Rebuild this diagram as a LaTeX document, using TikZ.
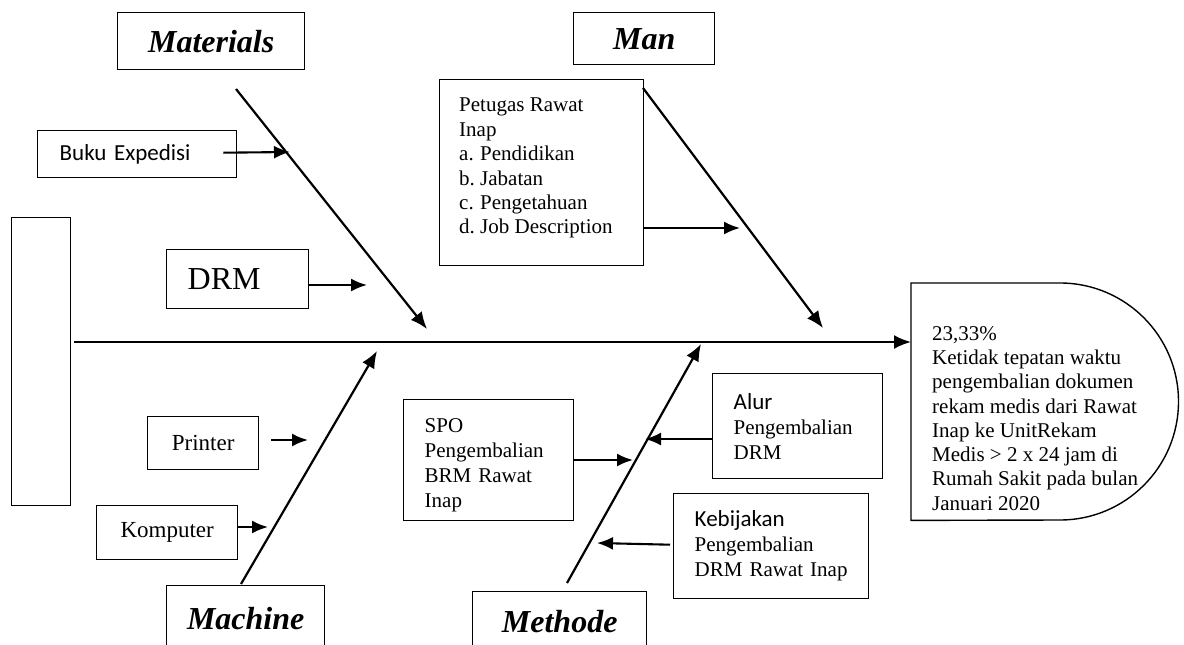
\documentclass[tikz,border=0pt]{standalone}
\usepackage{fontspec}
\setmainfont{Liberation Serif}
\newfontfamily\calib{Carlito}
\usetikzlibrary{arrows.meta,calc}
\tikzset{
  boxline/.style={draw=black, line width=1.4pt},
  bx/.style={boxline, rectangle, inner sep=0pt, anchor=north west},
  title/.style={bx, font=\fontsize{32}{36}\selectfont\bfseries\itshape},
  small/.style={bx, font=\fontsize{23}{26}\selectfont},
  multi/.style={bx, align=left, inner xsep=21pt, inner ysep=0pt, font=\fontsize{21}{25}\selectfont},
  bone/.style={line width=2.2pt, -{Latex[length=17pt,width=14pt]}},
  twig/.style={line width=2.1pt, -{Latex[length=16pt,width=13pt]}},
}
\begin{document}
\begin{tikzpicture}[x=1pt,y=-1pt]
\useasboundingbox (0,0) rectangle (1184,645);
\clip (0,0) rectangle (1184,645);
% left box
\node[bx, minimum width=59pt, minimum height=288pt] (left) at (11,217) {};
% head
\node[anchor=north west, inner sep=0pt, minimum width=267pt, minimum height=237pt] (head) at (911,283) {};
\draw[boxline] (head.north west) -- ++(149pt,0pt) arc[start angle=90, end angle=-90, radius=118.5pt] -- (head.south west) -- cycle;
\node[anchor=north west, inner sep=0pt, align=left, font=\fontsize{21}{24.3}\selectfont] (headtext) at (932,326)
 {23,33\%\\Ketidak tepatan waktu\\pengembalian dokumen\\rekam medis dari Rawat\\Inap ke UnitRekam\\Medis > 2 x 24 jam di\\Rumah Sakit pada bulan\\Januari 2020};
% spine
\coordinate (sp) at (74,342);
\draw[bone] (sp) -- (sp -| head.west);
% titles
\node[title, minimum width=187pt, minimum height=57pt] (materials) at (117,12) {Materials};
\node[title, minimum width=141pt, minimum height=52pt] (man) at (573,12) {Man};
\node[title, minimum width=158pt, minimum height=66pt] (machine) at (166,585) {Machine};
\node[title, minimum width=174pt, minimum height=59pt] (methode) at (472,591) {Methode};
% bones
\coordinate (m1) at (236,89);  \coordinate (m2) at (427,329);
\coordinate (n1) at (643,88);  \coordinate (n2) at (823,328);
\coordinate (c1) at (241,584); \coordinate (c2) at (377,351);
\coordinate (t1) at (567,583); \coordinate (t2) at (701,344);
\draw[bone] (m1) -- (m2);
\draw[bone] (n1) -- (n2);
\draw[bone] (c1) -- (c2);
\draw[bone] (t1) -- (t2);
% materials causes
\node[bx, minimum width=199pt, minimum height=47pt, align=left, text width=155pt, inner xsep=22pt, font=\calib\fontsize{23}{26}\selectfont] (buku) at (37,130) {Buku Expedisi};
\node[bx, minimum width=142pt, minimum height=59pt, align=left, text width=100pt, inner xsep=21pt, font=\fontsize{32}{36}\selectfont] (drm) at (166,249) {DRM};
\coordinate (bukuA) at (290,152);
\coordinate (drmA) at (367,285);
\draw[twig] ($(buku.east)+(-14,-1.5)$) -- (bukuA);
\draw[twig] (drm.east |- drmA) -- (drmA);
% man cause
\node[bx, minimum width=204pt, minimum height=186pt] (petugas) at (439,79) {};
\node[anchor=north west, inner sep=0pt, align=left, font=\fontsize{21}{24.4}\selectfont] (petugastext) at (459,98)
 {Petugas Rawat\\Inap\\\makebox[21pt][l]{a.}Pendidikan\\\makebox[21pt][l]{b.}Jabatan\\\makebox[21pt][l]{c.}Pengetahuan\\\makebox[21pt][l]{d.}Job Description};
\coordinate (petA) at (740,228);
\draw[twig] (petugas.east |- petA) -- (petA);
% machine causes
\node[small, minimum width=111pt, minimum height=53pt] (printer) at (147,416) {Printer};
\node[small, minimum width=141pt, minimum height=54pt] (komputer) at (96,505) {Komputer};
\coordinate (prA) at (308,440); \coordinate (prS) at (271,440);
\coordinate (koA) at (268,527);
\draw[twig] (prS) -- (prA);
\draw[twig] (komputer.east |- koA) -- (koA);
% methode causes
\node[multi, minimum width=170pt, minimum height=121pt, text width=128pt, text height=24pt] (spo) at (403,399) {SPO\\Pengembalian\\BRM Rawat\\Inap};
\node[multi, minimum width=170pt, minimum height=105pt, text width=128pt] (alur) at (712,373) {{\calib\fontsize{23}{25}\selectfont Alur}\\Pengembalian\\DRM};
\node[multi, minimum width=195pt, minimum height=105pt, text width=153pt] (kebijakan) at (673,493) {{\calib\fontsize{23}{25}\selectfont Kebijakan}\\Pengembalian\\DRM Rawat Inap};
\coordinate (spoA) at (633,460);
\coordinate (alurA) at (645,439);
\coordinate (kebA) at (597,543);
\draw[twig] (spo.east |- spoA) -- (spoA);
\draw[twig] (alur.west |- alurA) -- (alurA);
\draw[twig] ($(kebijakan.west)+(-3,-1.5)$) -- (kebA);
\end{tikzpicture}
\end{document}
